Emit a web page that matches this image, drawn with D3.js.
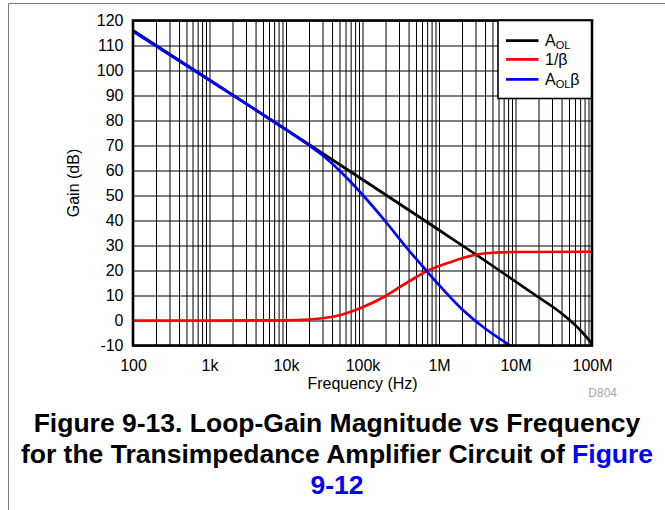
<!DOCTYPE html>
<html>
<head>
<meta charset="utf-8">
<script src="https://cdn.jsdelivr.net/npm/d3@7"></script>
<style>
  html, body { margin: 0; padding: 0; background: #fff; }
  svg { display: block; }
  text { font-family: "Liberation Sans", Arial, sans-serif; }
</style>
</head>
<body>
<svg id="chart" width="665" height="510"></svg>
<script>
// ---- data ----
const freqTicks = [1e2, 1e3, 1e4, 1e5, 1e6, 1e7, 1e8];
const freqTickLabels = ["100", "1k", "10k", "100k", "1M", "10M", "100M"];
const gainTicks = [-10, 0, 10, 20, 30, 40, 50, 60, 70, 80, 90, 100, 110, 120];
const gainTickLabels = ["-10", "0", "10", "20", "30", "40", "50", "60", "70", "80", "90", "100", "110", "120"];

const aolFreq = [1e2, 1e3, 1e4, 1e5, 1e6, 3e6, 1e7, 2e7, 3e7, 5e7, 7e7, 1e8];
const aolGain = [116, 96.2, 76.4, 56.4, 36.2, 26.5, 15.6, 9.3, 5.7, 0.4, -3.8, -9.3];

const invBetaFreq = [1e2, 1e3, 1e4, 2e4, 5e4, 1e5, 2e5, 3e5, 5e5, 7e5, 1e6, 1.5e6, 2e6, 3e6, 5e6, 1e7, 1e8];
const invBetaGain = [0, 0, 0.1, 0.4, 2.1, 5.3, 9.8, 13.2, 17.3, 19.8, 21.8, 23.6, 24.9, 26.3, 27.1, 27.4, 27.5];

const loopFreq = [1e2, 1e3, 1e4, 2e4, 3e4, 5.6e4, 1e5, 2e5, 3.8e5, 6.9e5, 1e6, 2e6, 4e6, 6.3e6, 7.9e6, 1e7];
const loopGain = [115.6, 96.1, 76.3, 70.1, 66.1, 58.5, 50.3, 39.6, 29.0, 19.8, 14.2, 4.5, -3.2, -7.4, -9.4, -11.4];

const seriesNames = ["AOL", "1/β", "AOLβ"];
const seriesColors = ["#000000", "#ff0000", "#0000ff"];

// ---- layout ----
const svg = d3.select("#chart");
const plot = { left: 133, right: 592, top: 20.5, bottom: 345.5 };

// page border (top + left)
svg.append("path")
  .attr("d", "M8.5,510 L8.5,3.5 L665,3.5")
  .attr("fill", "none").attr("stroke", "#7a7a7a").attr("stroke-width", 1);

const x = d3.scaleLog().domain([1e2, 1e8]).range([plot.left, plot.right]);
const y = d3.scaleLinear().domain([-10, 120]).range([plot.bottom, plot.top]);

// minor/major vertical grid values derived from the decade ticks
const gridFreqs = [];
freqTicks.slice(0, -1).forEach(d => { for (let k = 1; k <= 9; k++) gridFreqs.push(d * k); });
gridFreqs.push(1e8);

const gGridX = svg.append("g")
  .attr("transform", `translate(0,${plot.bottom})`)
  .call(d3.axisBottom(x).tickValues(gridFreqs).tickSize(-(plot.bottom - plot.top)).tickFormat(""));
gGridX.select(".domain").remove();
gGridX.selectAll("line").attr("stroke", "#000").attr("stroke-width", 1);

const gGridY = svg.append("g")
  .attr("transform", `translate(${plot.left},0)`)
  .call(d3.axisLeft(y).tickValues(gainTicks).tickSize(-(plot.right - plot.left)).tickFormat(""));
gGridY.select(".domain").remove();
gGridY.selectAll("line").attr("stroke", "#000").attr("stroke-width", 1);

// curves
svg.append("clipPath").attr("id", "clip")
  .append("rect").attr("x", plot.left).attr("y", plot.top)
  .attr("width", plot.right - plot.left).attr("height", plot.bottom - plot.top);

const line = d3.line().x(d => x(d[0])).y(d => y(d[1])).curve(d3.curveMonotoneX);
const series = [
  d3.zip(aolFreq, aolGain),
  d3.zip(invBetaFreq, invBetaGain),
  d3.zip(loopFreq, loopGain)
];
const curves = svg.append("g").attr("clip-path", "url(#clip)");
series.forEach((s, i) => {
  curves.append("path").datum(s)
    .attr("d", line)
    .attr("fill", "none")
    .attr("stroke", seriesColors[i])
    .attr("stroke-width", 2.7)
    .attr("stroke-linejoin", "round");
});

// plot frame
svg.append("rect")
  .attr("x", plot.left).attr("y", plot.top)
  .attr("width", plot.right - plot.left).attr("height", plot.bottom - plot.top)
  .attr("fill", "none").attr("stroke", "#000").attr("stroke-width", 2.6);

// axis labels
const gx = svg.append("g")
  .attr("transform", `translate(0,${plot.bottom})`)
  .call(d3.axisBottom(x).tickValues(freqTicks).tickSize(0).tickPadding(14)
    .tickFormat((d, i) => freqTickLabels[i]));
gx.select(".domain").remove();
gx.selectAll("text").attr("font-size", 16).attr("fill", "#000")
  .attr("font-family", "Liberation Sans, Arial, sans-serif");

const gy = svg.append("g")
  .attr("transform", `translate(${plot.left},0)`)
  .call(d3.axisLeft(y).tickValues(gainTicks).tickSize(0).tickPadding(9.5)
    .tickFormat((d, i) => gainTickLabels[i]));
gy.select(".domain").remove();
gy.selectAll("text").attr("font-size", 16).attr("fill", "#000")
  .attr("font-family", "Liberation Sans, Arial, sans-serif");

svg.append("text")
  .attr("x", (plot.left + plot.right) / 2).attr("y", 388.5)
  .attr("text-anchor", "middle").attr("font-size", 16)
  .text("Frequency (Hz)");

svg.append("text")
  .attr("transform", `translate(79,${(plot.top + plot.bottom) / 2}) rotate(-90)`)
  .attr("text-anchor", "middle").attr("font-size", 16)
  .text("Gain (dB)");

svg.append("text")
  .attr("x", 617).attr("y", 397)
  .attr("text-anchor", "end").attr("font-size", 12).attr("fill", "#a8a8a8")
  .text("D804");

// legend
const lg = svg.append("g");
lg.append("rect").attr("x", 498).attr("y", plot.top).attr("width", 93.5).attr("height", 78)
  .attr("fill", "#fff").attr("stroke", "#000").attr("stroke-width", 1.6);
const rowsY = [40.7, 59.3, 79.3];
seriesNames.forEach((n, i) => {
  lg.append("line").attr("x1", 506).attr("x2", 538.5).attr("y1", rowsY[i]).attr("y2", rowsY[i])
    .attr("stroke", seriesColors[i]).attr("stroke-width", 2.7);
  const t = lg.append("text").attr("x", 545).attr("y", rowsY[i] + 5.5).attr("font-size", 16);
  if (n === "AOL") {
    t.append("tspan").text("A");
    t.append("tspan").attr("font-size", 11).attr("dy", 3).text("OL");
  } else if (n === "AOLβ") {
    t.append("tspan").text("A");
    t.append("tspan").attr("font-size", 11).attr("dy", 3).text("OL");
    t.append("tspan").attr("dy", -3).text("β");
  } else {
    t.text(n);
  }
});

// caption
const cap = svg.append("g").attr("font-weight", "bold").attr("font-size", 26.5).attr("text-anchor", "middle");
cap.append("text").attr("x", 337).attr("y", 432).text("Figure 9-13. Loop-Gain Magnitude vs Frequency");
const l2 = cap.append("text").attr("x", 337).attr("y", 463);
l2.append("tspan").text("for the Transimpedance Amplifier Circuit of ");
l2.append("tspan").attr("fill", "#0000ff").text("Figure");
cap.append("text").attr("x", 337).attr("y", 494).attr("fill", "#0000ff").text("9-12");
</script>
</body>
</html>
